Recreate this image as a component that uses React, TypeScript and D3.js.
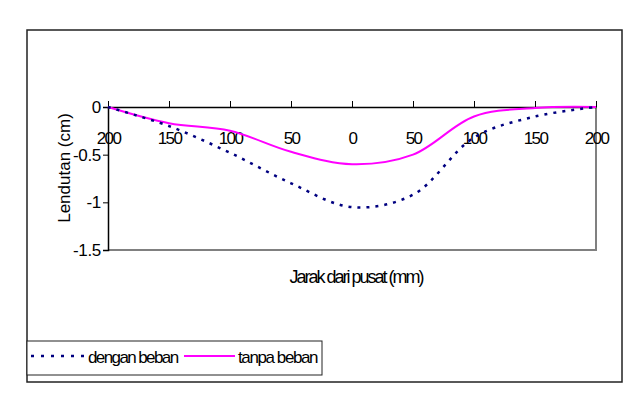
import * as d3 from "d3";
import React, {useRef, useEffect} from "react";

// jarak dari pusat (mm), kiri negatif
const jarak = [-200, -150, -100, -50, 0, 50, 100, 150, 200];
const denganBeban = [0, -0.2, -0.48, -0.8, -1.05, -0.92, -0.32, -0.1, 0];
const tanpaBeban = [0, -0.17, -0.25, -0.47, -0.6, -0.5, -0.1, -0.01, 0];
const yTicks = [0, -0.5, -1, -1.5];
const seriesNames = ["dengan beban", "tanpa beban"];

export default function App() {

    const ref = useRef<SVGSVGElement>(null);

    useEffect(() => {

        const svg = d3.select(ref.current);
        svg.selectAll("*").remove();

        const left = 108, right = 596, top = 107, bottom = 250;
        const font = "'Liberation Sans', Arial, sans-serif";

        const x = d3.scaleLinear().domain([-200, 200]).range([left, right]);
        const y = d3.scaleLinear().domain([0, -1.5]).range([top, bottom]);

        // outer frame
        svg.append("rect")
            .attr("x", 27).attr("y", 30)
            .attr("width", 595).attr("height", 352)
            .attr("fill", "white")
            .attr("stroke", "#222")
            .attr("stroke-width", 1.5);

        // plot area border (right + bottom gray)
        svg.append("path")
            .attr("d", `M${right},${top}V${bottom}H${left}`)
            .attr("fill", "none")
            .attr("stroke", "#808080")
            .attr("stroke-width", 2);

        // y axis
        const yAxis = d3.axisLeft(y)
            .tickValues(yTicks)
            .tickSize(5)
            .tickPadding(2)
            .tickFormat(d => String(d));

        const gy = svg.append("g")
            .attr("transform", `translate(${left},0)`)
            .call(yAxis);
        gy.select(".domain").attr("stroke", "#000").attr("stroke-width", 1.5);
        gy.selectAll(".tick line").attr("stroke", "#000");
        gy.selectAll(".tick text")
            .attr("font-family", font)
            .attr("font-size", 17)
            .attr("letter-spacing", -0.3)
            .attr("fill", "#000");

        // x axis on zero line, ticks up, labels below
        const xAxis = d3.axisTop(x)
            .tickValues(jarak)
            .tickSize(6)
            .tickSizeOuter(0)
            .tickFormat(d => String(Math.abs(+d)));

        const gx = svg.append("g")
            .attr("transform", `translate(0,${y(0)})`)
            .call(xAxis);
        gx.select(".domain").attr("stroke", "#000").attr("stroke-width", 1.5);
        gx.selectAll(".tick line").attr("stroke", "#000");
        gx.selectAll(".tick text")
            .attr("y", 37)
            .attr("font-family", font)
            .attr("font-size", 17)
            .attr("letter-spacing", -1.6)
            .attr("fill", "#000");

        const line = d3.line<number>()
            .x((d, i) => x(jarak[i]))
            .y(d => y(d))
            .curve(d3.curveCatmullRom.alpha(0.5));

        svg.append("path")
            .datum(tanpaBeban)
            .attr("d", line)
            .attr("fill", "none")
            .attr("stroke", "#FF00FF")
            .attr("stroke-width", 2);

        svg.append("path")
            .datum(denganBeban)
            .attr("d", line)
            .attr("fill", "none")
            .attr("stroke", "#000080")
            .attr("stroke-width", 2.5)
            .attr("stroke-dasharray", "3 6");

        // axis titles
        svg.append("text")
            .attr("transform", `translate(70,168) rotate(-90)`)
            .attr("text-anchor", "middle")
            .attr("font-family", font)
            .attr("font-size", 17)
            .text("Lendutan (cm)");

        svg.append("text")
            .attr("x", 356).attr("y", 283)
            .attr("text-anchor", "middle")
            .attr("font-family", font)
            .attr("font-size", 18)
            .attr("letter-spacing", -2)
            .text("Jarak dari pusat (mm)");

        // legend
        const lg = svg.append("g");
        lg.append("rect")
            .attr("x", 27).attr("y", 341)
            .attr("width", 295).attr("height", 34)
            .attr("fill", "white")
            .attr("stroke", "#222")
            .attr("stroke-width", 1);

        lg.append("line")
            .attr("x1", 31).attr("x2", 88)
            .attr("y1", 356).attr("y2", 356)
            .attr("stroke", "#000080")
            .attr("stroke-width", 2.5)
            .attr("stroke-dasharray", "3 7");
        lg.append("text")
            .attr("x", 88).attr("y", 363)
            .attr("font-family", font)
            .attr("font-size", 17)
            .attr("letter-spacing", -1.6)
            .text(seriesNames[0]);

        lg.append("line")
            .attr("x1", 184).attr("x2", 235)
            .attr("y1", 356).attr("y2", 356)
            .attr("stroke", "#FF00FF")
            .attr("stroke-width", 2);
        lg.append("text")
            .attr("x", 238).attr("y", 363)
            .attr("font-family", font)
            .attr("font-size", 17)
            .attr("letter-spacing", -1.4)
            .text(seriesNames[1]);

    }, [])

    return (
        <svg ref={ref} width={643} height={403}
            style={{position: "absolute", left: 0, top: 0, background: "white"}} />
    )
}
